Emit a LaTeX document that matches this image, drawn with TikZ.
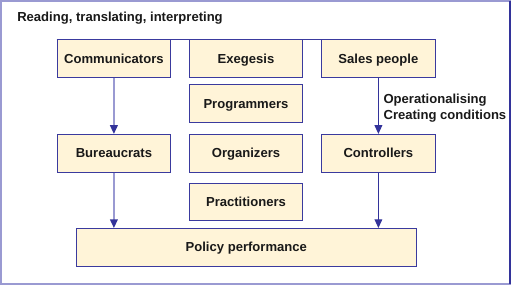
\documentclass[tikz,border=0pt]{standalone}
\usepackage{fontspec}
\setmainfont{Liberation Sans}
\usetikzlibrary{arrows.meta}
\definecolor{boxfill}{HTML}{FFF4D8}
\definecolor{boxline}{HTML}{3A3A9E}
\definecolor{lightline}{HTML}{9A9AD2}
\definecolor{darkline}{HTML}{33339A}
\tikzset{
  x=0.75pt, y=-0.75pt,
  every node/.style={font=\fontsize{9.8}{12}\selectfont\bfseries, text=black!90},
  box/.style={draw=boxline, fill=boxfill, line width=0.75pt, minimum width=85pt, minimum height=28.2pt, inner sep=0pt, text height=7pt, text depth=0pt},
  flow/.style={line width=1.1pt, -{Triangle[length=6.5pt,width=5.8pt,color=darkline]}},
  lbl/.style={anchor=base west, inner sep=0pt}
}
\begin{document}
\begin{tikzpicture}
\useasboundingbox (0,0) rectangle (513,286);
\fill[white] (0,0) rectangle (513,286);
\draw[lightline, line width=1.5pt] (1,1) rectangle (510,284);
\draw[darkline, line width=1.2pt] (510,1) -- (510,284);
\node[lbl] (title) at (17,21.5) {Reading, translating, interpreting};

\node[box] (comm) at (113.9,58.5) {Communicators};
\node[box] (exeg) at (246,58.5) {Exegesis};
\node[box] (sales) at (378.4,58.5) {Sales people};
\node[box] (prog) at (246,103.5) {Programmers};
\node[box] (bur) at (113.9,153.2) {Bureaucrats};
\node[box] (org) at (246,153.2) {Organizers};
\node[box] (ctrl) at (378.4,153.2) {Controllers};
\node[box] (prac) at (246,201.9) {Practitioners};
\node[box, minimum width=255pt] (pol) at (246.3,247.3) {Policy performance};

\draw[boxline, line width=0.75pt] (comm.north west) -- (sales.north east);

\draw[flow, draw=lightline] (comm.south) -- (bur.north);
\draw[flow, draw=lightline] (bur.south) -- (bur.south |- pol.north);
\draw[flow, draw=darkline, line width=0.75pt] (sales.south) -- (ctrl.north);
\draw[flow, draw=darkline, line width=0.75pt] (ctrl.south) -- (ctrl.south |- pol.north);

\node[lbl] (op) at (383.3,103.3) {Operationalising};
\node[lbl] (cc) at (383.3,119) {Creating conditions};
\end{tikzpicture}
\end{document}
